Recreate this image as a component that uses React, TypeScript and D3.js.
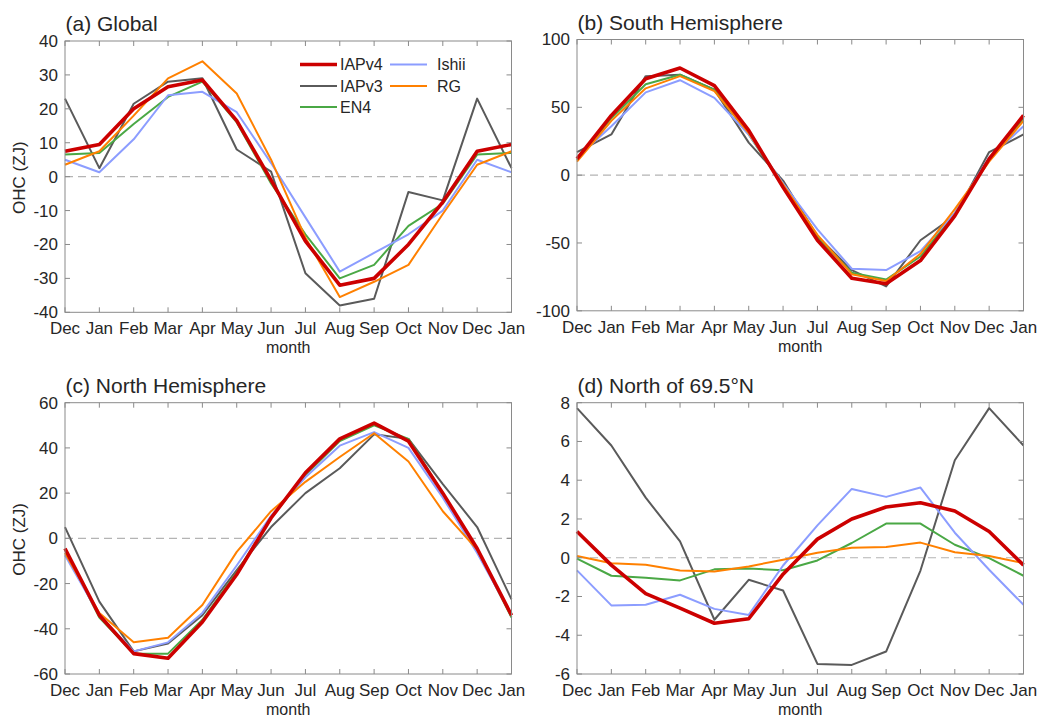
import React from "react";
import * as d3 from "d3";

// Month labels along the seasonal axis (Dec of previous year through Jan of next)
const months = ["Dec", "Jan", "Feb", "Mar", "Apr", "May", "Jun", "Jul", "Aug", "Sep", "Oct", "Nov", "Dec", "Jan"];

// (a) Global
const globalIAPv4 = [7.5, 9.5, 20, 26.5, 28.5, 16.5, -1, -19, -32, -30, -20, -7.5, 7.5, 9.5];
const globalIAPv3 = [23, 2.5, 21.5, 28, 29, 8, 1.5, -28.5, -38, -36, -4.5, -7, 23, 2.5];
const globalEN4 = [6.5, 7, 15.5, 23.5, 28, 16, -2, -17, -30, -26, -14.5, -8, 6.5, 7];
const globalIshii = [5, 1.3, 11, 24, 25, 19, 4, -12, -28, -22.5, -17, -10, 5, 1.3];
const globalRG = [3.5, 7.5, 18, 29, 34, 24.5, 5, -18, -35.5, -31, -26, -11, 3.5, 7.5];

// (b) South Hemisphere
const southIAPv4 = [12, 44, 71, 79, 66, 33, -9, -48, -76, -80, -63, -30, 12, 44];
const southIAPv3 = [17, 30, 73, 74, 63, 24, -4, -45, -70, -82, -48, -30, 17, 30];
const southEN4 = [11, 42, 67, 74, 63, 30, -8, -46, -72, -77, -60, -28, 11, 42];
const southIshii = [13, 36, 61, 70, 57, 30, -6, -40, -69, -70, -56, -28, 13, 36];
const southRG = [10, 40, 64, 73, 62, 31, -7, -44, -73, -78, -58, -25, 10, 40];

// (c) North Hemisphere
const northIAPv4 = [-4.5, -34, -51, -53, -37, -16, 9, 29, 44, 51, 43, 20, -4.5, -34];
const northIAPv3 = [5, -28, -50, -46.5, -34, -14, 5, 20, 31, 46, 44, 24, 5, -27];
const northEN4 = [-5, -35, -51, -51, -36, -15, 9, 28, 43, 50, 44, 20, -5, -35];
const northIshii = [-7.5, -34, -50, -46, -33, -12, 10, 27, 41, 47, 40, 18, -6.5, -34];
const northRG = [-6.5, -33, -46, -44, -29.5, -6, 12, 25, 36, 46.5, 34, 12, -5, -34];

// (d) North of 69.5°N
const arcticIAPv4 = [1.35, -0.38, -1.85, -2.6, -3.38, -3.15, -0.85, 0.96, 2.0, 2.62, 2.84, 2.41, 1.35, -0.38];
const arcticIAPv3 = [7.72, 5.79, 3.1, 0.84, -3.2, -1.14, -1.69, -5.48, -5.53, -4.84, -0.66, 5.03, 7.72, 5.79];
const arcticEN4 = [-0.05, -0.93, -1.03, -1.17, -0.6, -0.55, -0.65, -0.14, 0.76, 1.76, 1.76, 0.67, -0.02, -0.93];
const arcticIshii = [-0.65, -2.46, -2.43, -1.91, -2.64, -2.95, -0.4, 1.67, 3.55, 3.14, 3.62, 1.29, -0.62, -2.43];
const arcticRG = [0.09, -0.28, -0.36, -0.66, -0.71, -0.45, -0.1, 0.26, 0.52, 0.55, 0.78, 0.28, 0.09, -0.28];

const seriesColors: Record<string, string> = {
  IAPv4: "#cc0000",
  IAPv3: "#5a5a5a",
  EN4: "#4aa845",
  Ishii: "#8c9dff",
  RG: "#ff8000",
};
const seriesWidths: Record<string, number> = { IAPv4: 3.6, IAPv3: 2, EN4: 2, Ishii: 2, RG: 2 };
// drawing order: IAPv4 on top
const drawOrder = ["IAPv3", "EN4", "Ishii", "RG", "IAPv4"];

const FONT = "'Liberation Sans', Arial, Helvetica, sans-serif";
const TEXT = "#262626";
const AXIS = "#8a8a8a";

type PanelDef = {
  title: string;
  left: number;
  top: number;
  domain: [number, number];
  ticks: number[];
  yLabel: boolean;
  data: Record<string, number[]>;
};

const panels: PanelDef[] = [
  {
    title: "(a) Global",
    left: 65,
    top: 41,
    domain: [-40, 40],
    ticks: [-40, -30, -20, -10, 0, 10, 20, 30, 40],
    yLabel: true,
    data: { IAPv4: globalIAPv4, IAPv3: globalIAPv3, EN4: globalEN4, Ishii: globalIshii, RG: globalRG },
  },
  {
    title: "(b) South Hemisphere",
    left: 577,
    top: 39.5,
    domain: [-100, 100],
    ticks: [-100, -50, 0, 50, 100],
    yLabel: false,
    data: { IAPv4: southIAPv4, IAPv3: southIAPv3, EN4: southEN4, Ishii: southIshii, RG: southRG },
  },
  {
    title: "(c) North Hemisphere",
    left: 65,
    top: 402.7,
    domain: [-60, 60],
    ticks: [-60, -40, -20, 0, 20, 40, 60],
    yLabel: true,
    data: { IAPv4: northIAPv4, IAPv3: northIAPv3, EN4: northEN4, Ishii: northIshii, RG: northRG },
  },
  {
    title: "(d) North of 69.5°N",
    left: 577,
    top: 402.7,
    domain: [-6, 8],
    ticks: [-6, -4, -2, 0, 2, 4, 6, 8],
    yLabel: false,
    data: { IAPv4: arcticIAPv4, IAPv3: arcticIAPv3, EN4: arcticEN4, Ishii: arcticIshii, RG: arcticRG },
  },
];

const PW = 446.5;
const PH = 271.3;
const TICK = 5;

function Panel({ p, showLegend }: { p: PanelDef; showLegend: boolean }) {
  const x = d3.scaleLinear().domain([0, months.length - 1]).range([p.left, p.left + PW]);
  const y = d3.scaleLinear().domain(p.domain).range([p.top + PH, p.top]);
  const line = d3
    .line<number>()
    .x((_, i) => x(i))
    .y((v) => y(v));
  const right = p.left + PW;
  const bottom = p.top + PH;

  return (
    <g>
      <text x={p.left + 0.5} y={p.top - 10} fontSize={21} fill={TEXT} fontFamily={FONT}>
        {p.title}
      </text>
      {/* zero reference */}
      <line
        x1={p.left}
        x2={right}
        y1={y(0)}
        y2={y(0)}
        stroke="#b4b4b4"
        strokeWidth={1.2}
        strokeDasharray="8,5"
      />
      {drawOrder.map((name) => (
        <path
          key={name}
          d={line(p.data[name]) || ""}
          fill="none"
          stroke={seriesColors[name]}
          strokeWidth={seriesWidths[name]}
          strokeLinejoin="round"
        />
      ))}
      {/* frame */}
      <rect x={p.left} y={p.top} width={PW} height={PH} fill="none" stroke={AXIS} strokeWidth={1} />
      {/* x ticks (bottom + top, inward) */}
      {months.map((m, i) => (
        <g key={"x" + i}>
          <line x1={x(i)} x2={x(i)} y1={bottom} y2={bottom - TICK} stroke={AXIS} />
          <line x1={x(i)} x2={x(i)} y1={p.top} y2={p.top + TICK} stroke={AXIS} />
          <text
            x={x(i)}
            y={bottom + 22}
            textAnchor="middle"
            fontSize={17}
            fill={TEXT}
            fontFamily={FONT}
          >
            {m}
          </text>
        </g>
      ))}
      {/* y ticks (left + right, inward) */}
      {p.ticks.map((t) => (
        <g key={"y" + t}>
          <line x1={p.left} x2={p.left + TICK} y1={y(t)} y2={y(t)} stroke={AXIS} />
          <line x1={right} x2={right - TICK} y1={y(t)} y2={y(t)} stroke={AXIS} />
          <text
            x={p.left - 7}
            y={y(t)}
            dy="0.35em"
            textAnchor="end"
            fontSize={17}
            fill={TEXT}
            fontFamily={FONT}
          >
            {t}
          </text>
        </g>
      ))}
      <text
        x={(p.left + right) / 2}
        y={bottom + 41}
        textAnchor="middle"
        fontSize={16}
        fill={TEXT}
        fontFamily={FONT}
      >
        month
      </text>
      {p.yLabel && (
        <text
          transform={`translate(${24.5},${(p.top + bottom) / 2 + 1}) rotate(-90)`}
          textAnchor="middle"
          fontSize={17}
          fill={TEXT}
          fontFamily={FONT}
        >
          OHC (ZJ)
        </text>
      )}
      {showLegend && <Legend />}
    </g>
  );
}

function Legend() {
  const cols = [
    { lx: 300, tx: 340, names: ["IAPv4", "IAPv3", "EN4"] },
    { lx: 390, tx: 437, names: ["Ishii", "RG"] },
  ];
  const rows = [64.5, 86, 107];
  return (
    <g>
      {cols.map((c) =>
        c.names.map((n, r) => (
          <g key={n}>
            <line
              x1={c.lx}
              x2={c.lx + 37}
              y1={rows[r]}
              y2={rows[r]}
              stroke={seriesColors[n]}
              strokeWidth={seriesWidths[n]}
            />
            <text x={c.tx} y={rows[r]} dy="0.36em" fontSize={16} fill={TEXT} fontFamily={FONT}>
              {n}
            </text>
          </g>
        ))
      )}
    </g>
  );
}

export default function App() {
  return (
    <svg
      width={1051}
      height={717}
      viewBox="0 0 1051 717"
      style={{ position: "absolute", left: 0, top: 0, background: "#fff" }}
    >
      <rect width={1051} height={717} fill="#fff" />
      {panels.map((p, i) => (
        <Panel key={p.title} p={p} showLegend={i === 0} />
      ))}
    </svg>
  );
}
